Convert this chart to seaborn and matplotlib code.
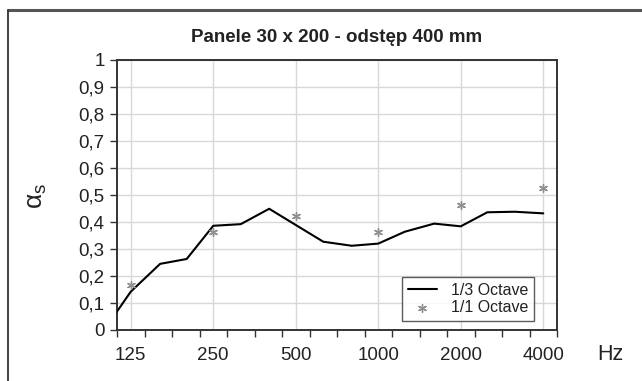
import matplotlib
matplotlib.use("Agg")
import matplotlib.pyplot as plt
import matplotlib.ticker as mticker
from matplotlib.lines import Line2D
import numpy as np
import seaborn as sns

# Data
freq_third = [100, 125, 160, 200, 250, 315, 400, 500, 630, 800, 1000, 1250, 1600, 2000, 2500, 3150, 4000]
alpha_third = [0.0, 0.142, 0.245, 0.263, 0.386, 0.392, 0.449, 0.389, 0.327, 0.312, 0.320, 0.364, 0.394, 0.384, 0.436, 0.438, 0.432]
freq_oct = [125, 250, 500, 1000, 2000, 4000]
alpha_oct = [0.166, 0.364, 0.422, 0.364, 0.463, 0.527]
x_tick_labels = ["125", "250", "500", "1000", "2000", "4000"]
y_tick_values = [0, 0.1, 0.2, 0.3, 0.4, 0.5, 0.6, 0.7, 0.8, 0.9, 1.0]
y_tick_labels = ["0", "0,1", "0,2", "0,3", "0,4", "0,5", "0,6", "0,7", "0,8", "0,9", "1"]
title = "Panele 30 x 200 - odstęp 400 mm"

sns.set_style("white")
plt.rcParams["font.family"] = ["Liberation Sans", "DejaVu Sans"]

W, H = 642, 381
fig = plt.figure(figsize=(W / 100, H / 100), dpi=100)
ax = fig.add_axes([117 / W, 1 - 330 / H, 440 / W, 270 / H])

ax.set_xscale("log", base=2)
sns.lineplot(x=freq_third, y=alpha_third, ax=ax, color="black", linewidth=1.5,
             label="1/3 Octave", sort=False, zorder=3)
sns.scatterplot(x=freq_oct, y=alpha_oct, ax=ax, color="#8f8f8f", marker=(6, 2, 0),
                s=32, linewidth=1.0, label="1/1 Octave", zorder=4)

lo = freq_oct[0] * 2 ** (-1 / 6)
hi = freq_oct[-1] * 2 ** (1 / 6)
ax.set_xlim(lo, hi)
ax.set_ylim(0, 1)

# x major: labels + vertical grid; minor: band boundary tick marks
ax.xaxis.set_major_locator(mticker.FixedLocator(freq_oct))
ax.xaxis.set_major_formatter(mticker.FixedFormatter(x_tick_labels))
bounds = [lo * 2 ** (k / 3) for k in range(17)]
ax.xaxis.set_minor_locator(mticker.FixedLocator(bounds))
ax.xaxis.set_minor_formatter(mticker.NullFormatter())
ax.tick_params(axis="x", which="major", length=0, pad=12, labelsize=13.5, labelcolor="#222222")
ax.tick_params(axis="x", which="minor", length=5, width=1.0, color="#333333", direction="out", bottom=True)

ax.yaxis.set_major_locator(mticker.FixedLocator(y_tick_values))
ax.yaxis.set_major_formatter(mticker.FixedFormatter(y_tick_labels))
ax.tick_params(axis="y", which="major", length=5, width=1.0, color="#333333", direction="out",
               pad=4, labelsize=13.5, labelcolor="#222222", left=True)

ax.grid(True, which="major", color="#d8d8d8", linewidth=1.0)
ax.set_axisbelow(True)
for sp in ax.spines.values():
    sp.set_visible(True)
    sp.set_color("#333333")
    sp.set_linewidth(1.4)

ax.set_xlabel("")
ax.set_ylabel("")

leg = ax.legend(loc="lower right", bbox_to_anchor=(0.948, 0.034), borderaxespad=0,
                frameon=True, fancybox=False, fontsize=11.5, handlelength=1.8,
                handletextpad=0.9, borderpad=0.35, labelspacing=0.15)
leg.get_frame().set_edgecolor("#333333")
leg.get_frame().set_linewidth(1.0)
for t in leg.get_texts():
    t.set_color("#222222")

fig.text(337 / W, 1 - 38 / H, title, ha="center", va="center", fontsize=13.5,
         fontweight="bold", color="#222222")
fig.text(610 / W, 1 - 355 / H, "Hz", ha="center", va="center", fontsize=15.5, color="#222222")
fig.text(37 / W, 1 - 196 / H, r"$\mathregular{\alpha_{s}}$", ha="center", va="center",
         rotation=90, fontsize=19, color="#222222")

# outer frame (top and left only)
fig.add_artist(Line2D([8 / W, 1.0], [1 - 10 / H, 1 - 10 / H], transform=fig.transFigure,
                      color="#555555", linewidth=2.2))
fig.add_artist(Line2D([8 / W, 8 / W], [0, 1 - 10 / H], transform=fig.transFigure,
                      color="#333333", linewidth=1.3))

fig.savefig("out.png", dpi=100)
